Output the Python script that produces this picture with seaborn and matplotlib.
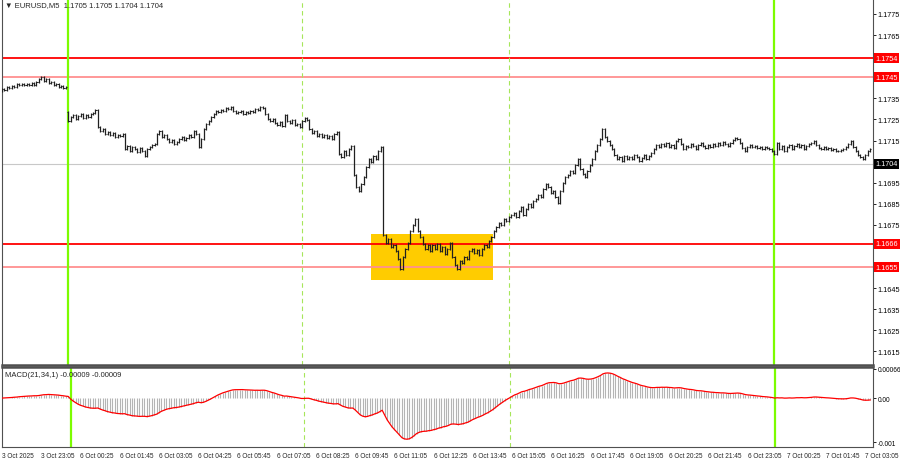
import numpy as np
import pandas as pd
import matplotlib
matplotlib.use("Agg")
import matplotlib.pyplot as plt
import matplotlib.transforms as mtransforms
from matplotlib.patches import Rectangle
import seaborn as sns

# EURUSD M5, 3 Oct 21:45 -> 7 Oct 03:10 (one close per bar)
closes = [
    1.17385, 1.17394, 1.17390, 1.17404, 1.17399, 1.17409, 1.17404, 1.17418, 1.17413, 1.17418,
    1.17413, 1.17418, 1.17413, 1.17423, 1.17413, 1.17428, 1.17442, 1.17451, 1.17432, 1.17442,
    1.17423, 1.17428, 1.17413, 1.17418, 1.17404, 1.17409, 1.17399, 1.17404,
    # Monday 6 Oct
    1.17243, 1.17262, 1.17271, 1.17252, 1.17266, 1.17276, 1.17257, 1.17271, 1.17262, 1.17276,
    1.17281, 1.17295, 1.17214, 1.17195, 1.17205, 1.17181, 1.17191, 1.17176, 1.17186, 1.17167,
    1.17176, 1.17172, 1.17181, 1.17110, 1.17124, 1.17101, 1.17120, 1.17110, 1.17096, 1.17115,
    1.17101, 1.17077, 1.17110, 1.17120, 1.17129, 1.17134, 1.17181, 1.17195, 1.17167, 1.17176,
    1.17157, 1.17143, 1.17153, 1.17134, 1.17143, 1.17157, 1.17167, 1.17153, 1.17162, 1.17176,
    1.17167, 1.17195, 1.17181, 1.17120, 1.17157, 1.17205, 1.17228, 1.17243, 1.17262, 1.17276,
    1.17290, 1.17285, 1.17295, 1.17290, 1.17304, 1.17300, 1.17309, 1.17290, 1.17281, 1.17285,
    1.17290, 1.17276, 1.17285, 1.17281, 1.17290, 1.17285, 1.17300, 1.17295, 1.17309, 1.17304,
    1.17276, 1.17252, 1.17243, 1.17252, 1.17233, 1.17224, 1.17238, 1.17219, 1.17271, 1.17243,
    1.17233, 1.17247, 1.17224, 1.17228, 1.17214, 1.17243, 1.17257, 1.17247, 1.17205, 1.17186,
    1.17195, 1.17172, 1.17181, 1.17167, 1.17176, 1.17162, 1.17172, 1.17157, 1.17181, 1.17191,
    1.17086, 1.17072, 1.17101, 1.17082, 1.17110, 1.17124, 1.16987, 1.16930, 1.16911, 1.16944,
    1.16977, 1.17025, 1.17063, 1.17048, 1.17077, 1.17063, 1.17101, 1.17120, 1.16702, 1.16664,
    1.16683, 1.16646, 1.16655, 1.16627, 1.16589, 1.16541, 1.16598, 1.16636, 1.16664, 1.16721,
    1.16750, 1.16778, 1.16721, 1.16693, 1.16660, 1.16636, 1.16655, 1.16627, 1.16655, 1.16636,
    1.16660, 1.16627, 1.16646, 1.16613, 1.16636, 1.16664, 1.16598, 1.16560, 1.16541, 1.16579,
    1.16570, 1.16598, 1.16589, 1.16627, 1.16636, 1.16617, 1.16631, 1.16608, 1.16636, 1.16655,
    1.16646, 1.16674, 1.16693, 1.16721, 1.16740, 1.16759, 1.16750, 1.16778, 1.16769, 1.16788,
    1.16797, 1.16807, 1.16788, 1.16816, 1.16835, 1.16797, 1.16826, 1.16849, 1.16835, 1.16863,
    1.16873, 1.16891, 1.16882, 1.16920, 1.16944, 1.16930, 1.16901, 1.16911, 1.16882, 1.16854,
    1.16911, 1.16949, 1.16977, 1.16987, 1.17006, 1.16996, 1.17034, 1.17063, 1.17015, 1.16992,
    1.16977, 1.17006, 1.17034, 1.17063, 1.17101, 1.17129, 1.17157, 1.17205, 1.17167, 1.17148,
    1.17129, 1.17110, 1.17082, 1.17063, 1.17072, 1.17053, 1.17077, 1.17063, 1.17072, 1.17063,
    1.17082, 1.17072, 1.17053, 1.17067, 1.17082, 1.17063, 1.17077, 1.17091, 1.17110, 1.17129,
    1.17120, 1.17134, 1.17124, 1.17138, 1.17120, 1.17129, 1.17115, 1.17148, 1.17157, 1.17134,
    1.17110, 1.17124, 1.17120, 1.17134, 1.17124, 1.17110, 1.17129, 1.17138, 1.17124, 1.17115,
    1.17129, 1.17120, 1.17134, 1.17124, 1.17138, 1.17129, 1.17143, 1.17134, 1.17124, 1.17138,
    1.17153, 1.17162, 1.17157, 1.17138, 1.17115, 1.17101, 1.17120, 1.17129, 1.17120, 1.17124,
    1.17115, 1.17120, 1.17110, 1.17120, 1.17115, 1.17110, 1.17101, 1.17086,
    # Tuesday 7 Oct
    1.17138, 1.17110, 1.17124, 1.17101, 1.17120, 1.17129, 1.17110, 1.17124, 1.17134, 1.17120,
    1.17129, 1.17110, 1.17124, 1.17134, 1.17138, 1.17148, 1.17129, 1.17115, 1.17110, 1.17120,
    1.17110, 1.17115, 1.17106, 1.17110, 1.17101, 1.17101, 1.17106, 1.17110, 1.17120, 1.17134,
    1.17148, 1.17120, 1.17101, 1.17082, 1.17072, 1.17063, 1.17082, 1.17101, 1.17110,
]
first_open = 1.17390
monday_bar = 28
monday_open = 1.17285

strong_levels = [1.1754, 1.1666]
weak_levels = [1.1745, 1.1655]
current_price = 1.1704
zone_bars = (151.2, 200.8)
zone_prices = (1.16489, 1.16707)
day_breaks = [28, 315]
session_bars = [123, 207]

price_ticks = [1.1775, 1.1765, 1.1735, 1.1725, 1.1715, 1.1695, 1.1685,
               1.1675, 1.1645, 1.1635, 1.1625, 1.1615]
macd_ticks = [0.00066, 0.0, -0.001]
macd_tick_labels = ["0.00066", "0.00", "-0.001"]
time_labels = ["3 Oct 2025", "3 Oct 23:05", "6 Oct 00:25", "6 Oct 01:45", "6 Oct 03:05",
               "6 Oct 04:25", "6 Oct 05:45", "6 Oct 07:05", "6 Oct 08:25", "6 Oct 09:45",
               "6 Oct 11:05", "6 Oct 12:25", "6 Oct 13:45", "6 Oct 15:05", "6 Oct 16:25",
               "6 Oct 17:45", "6 Oct 19:05", "6 Oct 20:25", "6 Oct 21:45", "6 Oct 23:05",
               "7 Oct 00:25", "7 Oct 01:45", "7 Oct 03:05"]
label_step = 16

header = "\u25bc EURUSD,M5  1.1705 1.1705 1.1704 1.1704"
macd_header = "MACD(21,34,1) -0.00009 -0.00009"

# bars + indicator
df = pd.DataFrame({"close": closes})
df["open"] = df["close"].shift(1)
df.loc[0, "open"] = first_open
df.loc[monday_bar, "open"] = monday_open
df["idx"] = np.arange(len(df))
df["top"] = df[["open", "close"]].max(axis=1)
df["bot"] = df[["open", "close"]].min(axis=1)
fast = df["close"].ewm(span=21, adjust=False).mean()
slow = df["close"].ewm(span=34, adjust=False).mean()
df["macd"] = fast - slow
df["signal"] = df["macd"].rolling(1).mean()

sns.set_style("white")
plt.rcParams["font.family"] = ["Liberation Sans Narrow", "Liberation Sans", "DejaVu Sans"]

fig = plt.figure(figsize=(9, 4.6), dpi=100)
ax = fig.add_axes([2 / 900, 94 / 460, 871 / 900, 366 / 460])
ax2 = fig.add_axes([2 / 900, 12 / 460, 871 / 900, 80 / 460])

xlim = (1.0, 355.1)
ax.set_xlim(*xlim)
ax.set_ylim(1.16086, 1.17821)
ax2.set_xlim(*xlim)
ax2.set_ylim(-0.00111, 0.000705)

# yellow zone
ax.add_patch(Rectangle((zone_bars[0], zone_prices[0]), zone_bars[1] - zone_bars[0],
                       zone_prices[1] - zone_prices[0], facecolor="#FFCC00",
                       edgecolor="none", zorder=1))

# horizontal levels
ax.axhline(current_price, color="#C8C8C8", lw=0.8, zorder=1.5)
for lv in strong_levels:
    ax.axhline(lv, color="#FF0000", lw=1.3, zorder=2)
for lv in weak_levels:
    ax.axhline(lv, color="#FF9090", lw=1.3, zorder=2)

# separators
for a in (ax, ax2):
    for b in day_breaks:
        a.axvline(b, color="#7CFC00", lw=1.6, zorder=2.5)
    for b in session_bars:
        a.axvline(b, color="#A6E65A", lw=0.8, ls=(0, (4, 3)), zorder=2.5)

# OHLC bars
ax.vlines(df["idx"], df["bot"] - 0.00006, df["top"] + 0.00006, color="#202020", lw=0.9, zorder=3)
ax.hlines(df["open"], df["idx"] - 0.45, df["idx"], color="#202020", lw=0.7, zorder=3)
ax.hlines(df["close"], df["idx"], df["idx"] + 0.45, color="#202020", lw=0.7, zorder=3)

# MACD panel
ax2.vlines(df["idx"], 0, df["macd"], color="#B4B4B4", lw=0.8, zorder=1)
sns.lineplot(x=df["idx"], y=df["signal"], ax=ax2, color="#FF0000", lw=0.9, zorder=3)
ax2.set_xlabel("")
ax2.set_ylabel("")

# axes styling
for a in (ax, ax2):
    a.yaxis.tick_right()
    a.tick_params(axis="y", direction="out", length=2, width=0.6, pad=1.5,
                  labelsize=5.2, colors="black")
    for s in a.spines.values():
        s.set_color("#505050")
        s.set_linewidth(0.8)
ax.spines["top"].set_visible(False)
ax.spines["bottom"].set_linewidth(1.8)
ax2.spines["top"].set_linewidth(1.8)

ax.set_yticks(price_ticks)
ax.set_yticklabels([f"{t:.4f}" for t in price_ticks])
ax.set_xticks([])

ax2.set_yticks(macd_ticks)
ax2.set_yticklabels(macd_tick_labels)
ax2.tick_params(axis="y", labelsize=4.7)
ax2.set_xticks(np.arange(len(time_labels)) * label_step)
ax2.set_xticklabels(time_labels)
ax2.tick_params(axis="x", direction="out", length=2, width=0.6, pad=1.5, labelsize=4.7)
for lab in ax2.get_xticklabels():
    lab.set_ha("left")

# price boxes on the right scale
trans = mtransforms.blended_transform_factory(ax.transAxes, ax.transData)
for lv in strong_levels + weak_levels:
    ax.text(1.003, lv, f"{lv:.4f}", transform=trans, ha="left", va="center",
            fontsize=5.2, color="white", zorder=5, clip_on=False,
            bbox=dict(boxstyle="square,pad=0.2", fc="#FF0000", ec="none"))
ax.text(1.003, current_price, f"{current_price:.4f}", transform=trans, ha="left",
        va="center", fontsize=5.2, color="white", zorder=5, clip_on=False,
        bbox=dict(boxstyle="square,pad=0.2", fc="black", ec="none"))

ax.text(0.004, 0.995, header, transform=ax.transAxes, ha="left", va="top", fontsize=5.5,
        family=["Liberation Sans", "DejaVu Sans"])
ax2.text(0.004, 0.95, macd_header, transform=ax2.transAxes, ha="left", va="top", fontsize=5.5,
         family=["Liberation Sans", "DejaVu Sans"])

fig.savefig("out.png", dpi=100)
